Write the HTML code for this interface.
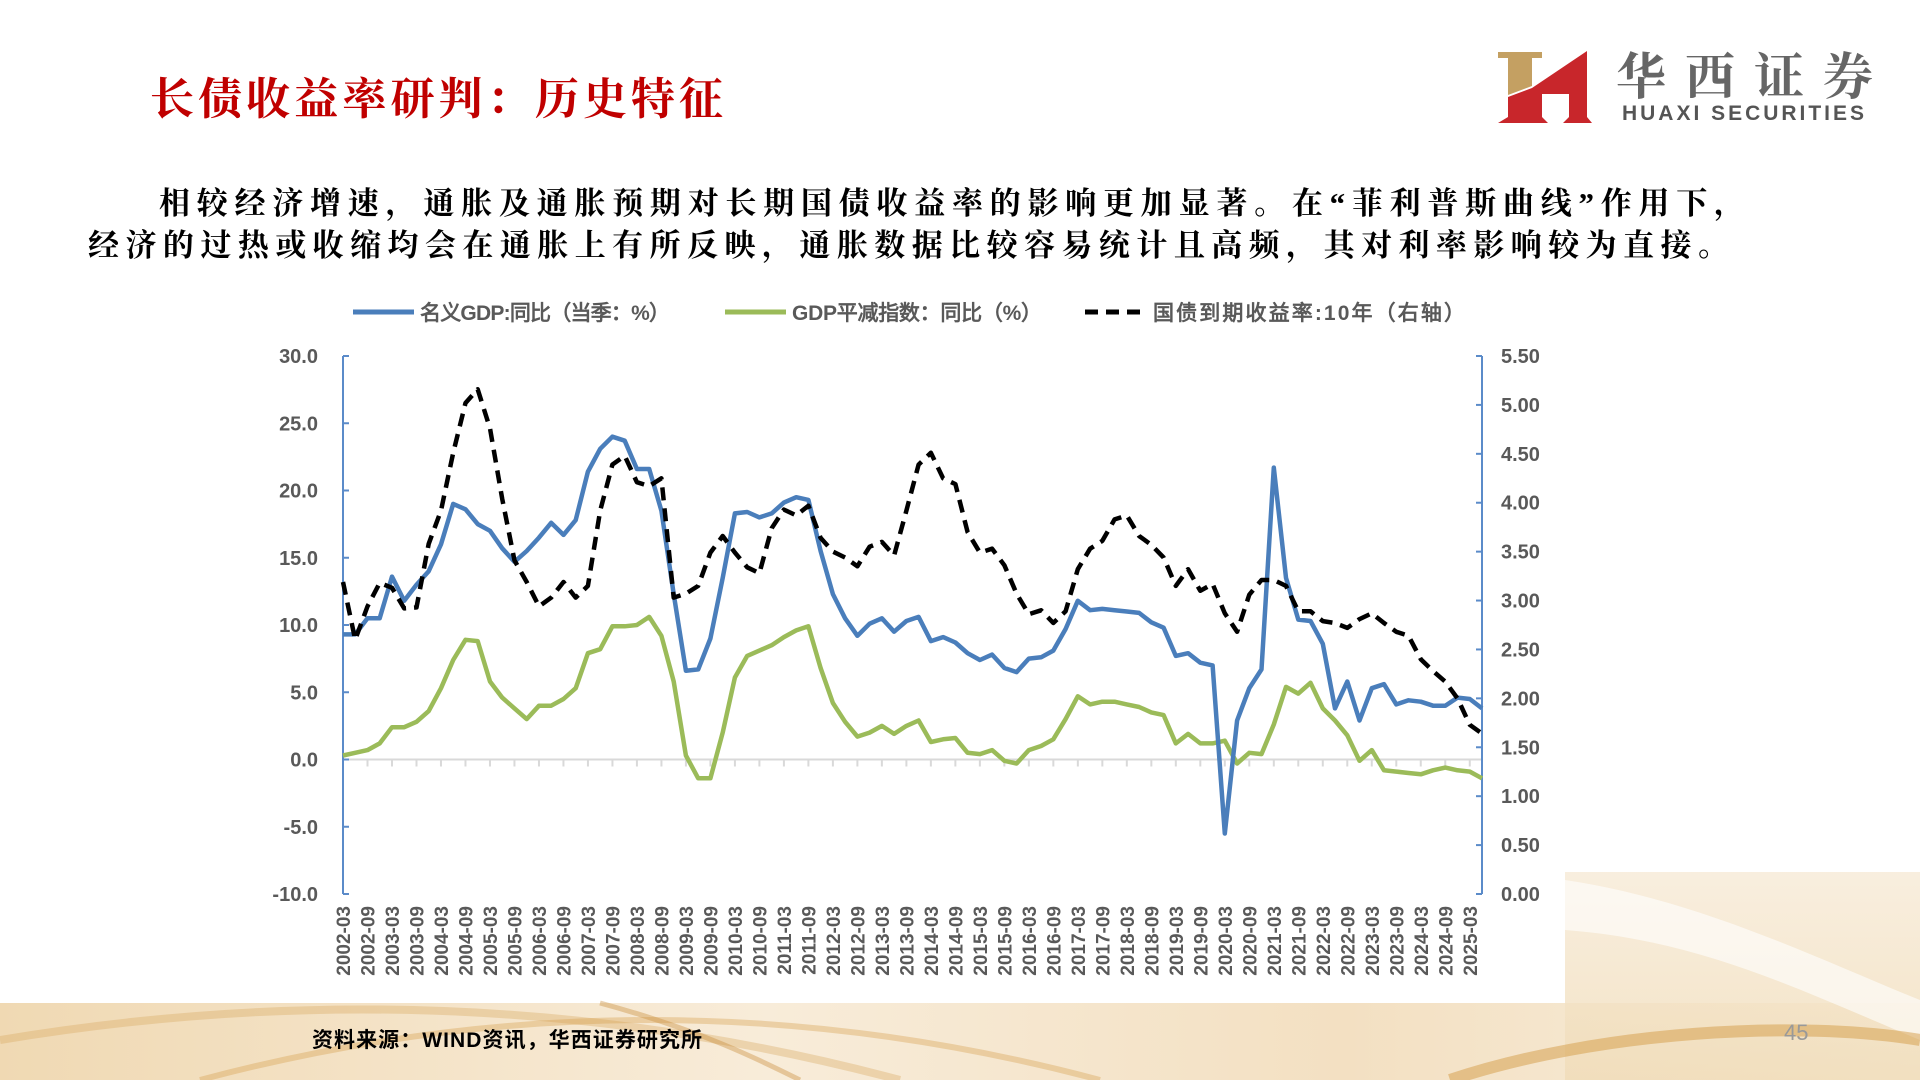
<!DOCTYPE html>
<html><head><meta charset="utf-8"><style>
html,body{margin:0;padding:0;background:#fff;}
svg{display:block;}
.tk{font-family:"Liberation Sans",sans-serif;font-weight:bold;fill:#595959;}
</style></head><body>
<svg id="s" width="1920" height="1080" viewBox="0 0 1920 1080" xmlns="http://www.w3.org/2000/svg">
<defs>
<linearGradient id="gb" x1="0" y1="0" x2="1" y2="0">
<stop offset="0" stop-color="#f0d9b3"/><stop offset="0.4" stop-color="#f8ecd9"/><stop offset="0.7" stop-color="#f3e0c2"/><stop offset="1" stop-color="#f9efdf"/></linearGradient>
<linearGradient id="gr" x1="0" y1="0" x2="0" y2="1">
<stop offset="0" stop-color="#f7ead6"/><stop offset="1" stop-color="#f0dcb8"/></linearGradient>
</defs>
<g>
<rect x="0" y="1003" width="1920" height="77" fill="url(#gb)"/>
<path d="M1565 872 H1920 V1080 H1565 Z" fill="url(#gr)" opacity="0.8"/>
<path d="M1565 880 C1700 900 1820 960 1920 1000 L1920 1040 C1800 990 1700 940 1565 930 Z" fill="#fff" opacity="0.6"/>
<path d="M0 1040 C300 990 600 1000 900 1080" stroke="#d8a75c" stroke-width="8" fill="none" opacity="0.35"/>
<path d="M200 1080 C500 1000 800 1000 1100 1080" stroke="#d39b45" stroke-width="6" fill="none" opacity="0.35"/>
<path d="M1450 1080 C1600 1030 1800 1020 1920 1040" stroke="#d39b45" stroke-width="12" fill="none" opacity="0.5"/>
<path d="M600 1003 C700 1030 760 1060 800 1080" stroke="#c98d3a" stroke-width="5" fill="none" opacity="0.4"/>
</g>
<text x="150" y="114" font-family="'Noto Serif CJK SC',serif" font-weight="bold" font-size="44" fill="#c00000" textLength="573">长债收益率研判：历史特征</text>
<text x="159" y="214" font-family="'Liberation Serif','Noto Serif CJK SC',serif" font-weight="bold" font-size="31" fill="#000" textLength="1586">相较经济增速，通胀及通胀预期对长期国债收益率的影响更加显著。在“菲利普斯曲线”作用下，</text>
<text x="88" y="256" font-family="'Liberation Serif','Noto Serif CJK SC',serif" font-weight="bold" font-size="31" fill="#000" textLength="1641">经济的过热或收缩均会在通胀上有所反映，通胀数据比较容易统计且高频，其对利率影响较为直接。</text>
<g>
<polygon points="1498,52 1542,52 1542,58 1532,58 1532,86 1508,95 1508,58 1498,58" fill="#c4a062"/>
<polygon points="1587,51 1587,117 1592,123 1563,123 1569,117 1569,94 1542,94 1542,117 1548,123 1498,123 1508,117 1508,97 1532,88" fill="#c8262b"/>
<text x="1616" y="94" font-family="'Noto Serif CJK SC',serif" font-weight="bold" font-size="50" fill="#666" textLength="257">华西证券</text>
<text x="1622" y="120" font-family="'Liberation Sans',sans-serif" font-weight="bold" font-size="21" fill="#555" textLength="242">HUAXI SECURITIES</text>
</g>
<g id="chart"></g>
<text x="312" y="1047" font-family="'Liberation Sans','Noto Sans CJK SC',sans-serif" font-weight="bold" font-size="21" fill="#000" textLength="390">资料来源：WIND资讯，华西证券研究所</text>
<text x="1784" y="1040" font-family="'Liberation Sans',sans-serif" font-size="22" fill="#999">45</text>
</svg>
<script>
const nominalGDP=[9.3,9.3,10.5,10.5,13.6,11.8,13.0,14.0,16.0,19.0,
18.6,17.5,17.0,15.7,14.7,15.5,16.5,17.6,16.7,17.8,
21.4,23.1,24.0,23.7,21.6,21.6,18.5,12.3,6.6,6.7,
9.0,13.5,18.3,18.4,18.0,18.3,19.1,19.5,19.3,15.5,
12.3,10.5,9.2,10.1,10.5,9.5,10.3,10.6,8.8,9.1,
8.7,7.9,7.4,7.8,6.8,6.5,7.5,7.6,8.1,9.7,
11.8,11.1,11.2,11.1,11.0,10.9,10.2,9.8,7.7,7.9,
7.2,7.0,-5.5,2.9,5.3,6.7,21.7,13.5,10.4,10.3,
8.6,3.8,5.8,2.9,5.3,5.6,4.1,4.4,4.3,4.0,
4.0,4.6,4.5,3.8];
const deflator=[0.3,0.5,0.7,1.2,2.4,2.4,2.8,3.6,5.3,7.4,
8.9,8.8,5.8,4.6,3.8,3.0,4.0,4.0,4.5,5.3,
7.9,8.2,9.9,9.9,10.0,10.6,9.2,5.8,0.3,-1.4,
-1.4,2.0,6.1,7.7,8.1,8.5,9.1,9.6,9.9,6.8,
4.2,2.8,1.7,2.0,2.5,1.9,2.5,2.9,1.3,1.5,
1.6,0.5,0.4,0.7,-0.1,-0.3,0.7,1.0,1.5,3.0,
4.7,4.1,4.3,4.3,4.1,3.9,3.5,3.3,1.2,1.9,
1.2,1.2,1.4,-0.3,0.5,0.4,2.6,5.4,4.9,5.7,
3.8,2.9,1.8,-0.1,0.7,-0.8,-0.9,-1.0,-1.1,-0.8,
-0.6,-0.8,-0.9,-1.4];
const yield10y=[3.19,2.60,2.94,3.18,3.13,2.92,2.93,3.58,3.92,4.51,
5.02,5.16,4.76,4.04,3.41,3.19,2.94,3.03,3.19,3.03,
3.15,3.92,4.39,4.48,4.21,4.17,4.25,3.03,3.07,3.15,
3.49,3.66,3.49,3.34,3.28,3.74,3.93,3.87,3.97,3.64,
3.50,3.44,3.35,3.55,3.60,3.46,3.92,4.39,4.51,4.25,
4.19,3.70,3.49,3.53,3.36,3.07,2.86,2.90,2.77,2.89,
3.32,3.53,3.61,3.83,3.87,3.66,3.57,3.44,3.15,3.32,
3.10,3.17,2.87,2.68,3.06,3.21,3.21,3.15,2.89,2.89,
2.79,2.77,2.72,2.81,2.87,2.77,2.68,2.64,2.40,2.28,
2.17,2.00,1.73,1.64];
const leftTicks=["30.0","25.0","20.0","15.0","10.0","5.0","0.0","-5.0","-10.0"];
const rightTicks=["5.50","5.00","4.50","4.00","3.50","3.00","2.50","2.00","1.50","1.00","0.50","0.00"];
const startYear=2002;

const NS="http://www.w3.org/2000/svg";
const g=document.getElementById('chart');
const xL=343,xR=1482,yT=356,yB=894;
const N=nominalGDP.length;
const step=(xR-xL)/93;
function xs(i){return xL+i*step;}
function yl(v){return yB-(v+10)/40*(yB-yT);}
function yr(v){return yB-v/5.5*(yB-yT);}
function mk(tag,attrs){const e=document.createElementNS(NS,tag);for(const k in attrs)e.setAttribute(k,attrs[k]);g.appendChild(e);return e;}
let z=mk('line',{x1:xL,x2:xR,y1:yl(0),y2:yl(0),stroke:'#d9d9d9','stroke-width':2});


for(let i=0;i<N;i+=2){
 let t=mk('line',{x1:xs(i),x2:xs(i),y1:yl(0),y2:yl(0)+7,stroke:'#d9d9d9','stroke-width':2});
 
 
 const q=i%4===0?'03':'09';
 const lab=(startYear+Math.floor(i/4))+'-'+q;
 let tx=mk('text',{x:0,y:0,transform:`translate(${xs(i)+7},906) rotate(-90)`,'text-anchor':'end','font-size':19,class:'tk'});
 tx.textContent=lab;
 
 
}
let la=mk('line',{x1:xL,x2:xL,y1:yT,y2:yB,stroke:'#5b8bc9','stroke-width':2});


let ra=mk('line',{x1:xR,x2:xR,y1:yT,y2:yB,stroke:'#5b8bc9','stroke-width':2});


leftTicks.forEach(function(s){
 const v=parseFloat(s);
 let t=mk('line',{x1:xL,x2:xL+6,y1:yl(v),y2:yl(v),stroke:'#5b8bc9','stroke-width':2});
 
 
 let tx=mk('text',{x:318,y:yl(v)+7,'text-anchor':'end','font-size':20,class:'tk'});
 tx.textContent=s;
 
 
});
rightTicks.forEach(function(s){
 const v=parseFloat(s);
 let t=mk('line',{x1:xR-6,x2:xR,y1:yr(v),y2:yr(v),stroke:'#5b8bc9','stroke-width':2});
 
 
 let tx=mk('text',{x:1501,y:yr(v)+7,'font-size':20,class:'tk'});
 tx.textContent=s;
 
 
});
function pts(arr,f){return arr.map((v,i)=>xs(i).toFixed(1)+','+f(v).toFixed(1)).join(' ');}
let p1=mk('polyline',{points:pts(deflator,yl),fill:'none',stroke:'#9bbb59','stroke-width':4.5,'stroke-linejoin':'round'});


let p2=mk('polyline',{points:pts(nominalGDP,yl),fill:'none',stroke:'#4a7ebb','stroke-width':4.5,'stroke-linejoin':'round'});


let p3=mk('polyline',{points:pts(yield10y,yr),fill:'none',stroke:'#000','stroke-width':4.5,'stroke-dasharray':'13,8','stroke-linejoin':'round'});


const lg=[[353,420,'#4a7ebb','','名义GDP:同比（当季：%）',250],[725,792,'#9bbb59','','GDP平减指数：同比（%）',250],[1085,1153,'#000','13,8','国债到期收益率:10年（右轴）',312]];
lg.forEach(function(l){
 let ln=mk('line',{x1:l[0],x2:l[0]+61,y1:312,y2:312,stroke:l[2],'stroke-width':5,'stroke-dasharray':l[3]||'none'});
 
 
 let tx=mk('text',{x:l[1],y:320,'font-size':21,class:'tk','font-family':"'Liberation Sans','Noto Sans CJK SC',sans-serif",textLength:l[5]});
 tx.textContent=l[4];
 
 
});
</script>
</body></html>
